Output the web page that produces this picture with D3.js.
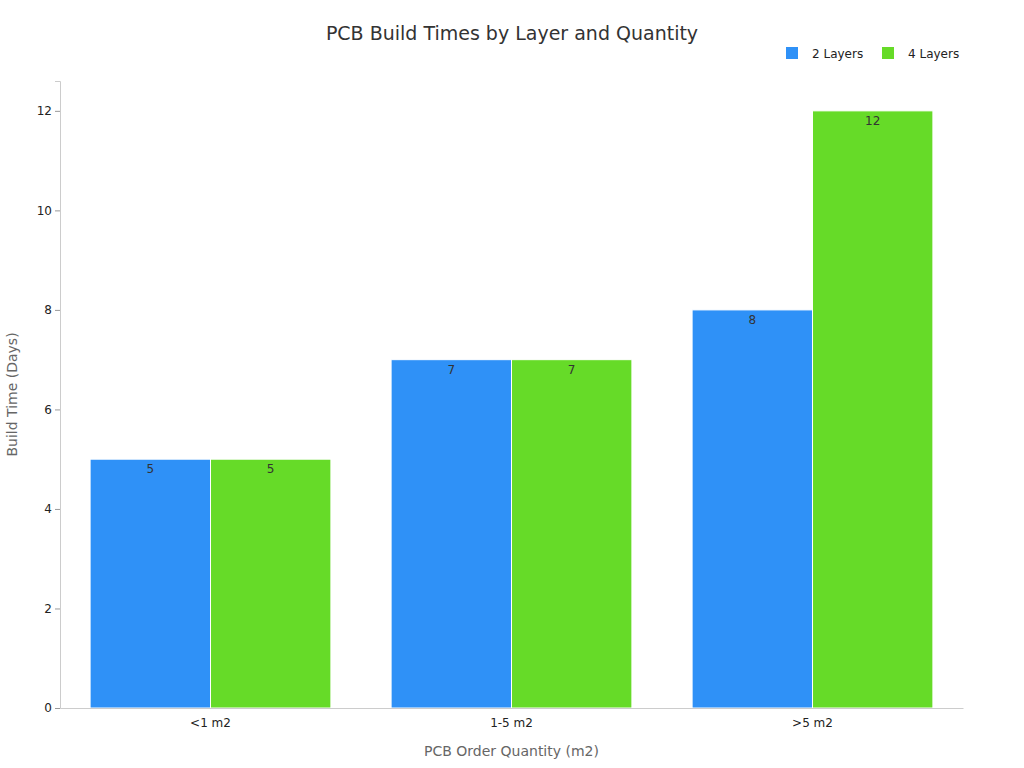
<!DOCTYPE html>
<html><head><meta charset="utf-8">
<script src="https://cdn.jsdelivr.net/npm/d3@7"></script>
<style>body{margin:0;background:#fff;font-family:"DejaVu Sans",sans-serif;}</style>
</head><body><div id="chart"></div>
<script>
const categories = ['<1 m2', '1-5 m2', '>5 m2'];
const seriesNames = ['2 Layers', '4 Layers'];
const layers2 = [5, 7, 8];
const layers4 = [5, 7, 12];
const yTicks = [0, 2, 4, 6, 8, 10, 12];
const colors = ['#2f91f7', '#66db28'];

const W = 1024, H = 768;
const margin = { top: 81, right: 61, bottom: 60, left: 60 };
const width = W - margin.left - margin.right;
const height = H - margin.top - margin.bottom;

const svg = d3.select('#chart').append('svg').attr('width', W).attr('height', H);
const g = svg.append('g').attr('transform', `translate(${margin.left},${margin.top})`);

const x = d3.scaleBand().domain(categories).range([0, width]).paddingInner(0.2).paddingOuter(0.1);
const xs = d3.scaleBand().domain(seriesNames).range([0, x.bandwidth()]);
const y = d3.scaleLinear().domain([0, 12.6]).range([height, 0]);

const data = categories.map((c, i) => ({ cat: c, vals: [layers2[i], layers4[i]] }));

const groups = g.selectAll('.grp').data(data).enter().append('g')
    .attr('transform', d => `translate(${x(d.cat)},0)`);
groups.selectAll('rect').data(d => d.vals.map((v, j) => ({ v, s: seriesNames[j], j })))
    .enter().append('rect')
    .attr('x', d => xs(d.s)).attr('width', xs.bandwidth())
    .attr('y', d => y(d.v)).attr('height', d => height - y(d.v))
    .attr('fill', d => colors[d.j]).attr('stroke', '#fff').attr('stroke-width', 1);
groups.selectAll('text').data(d => d.vals.map((v, j) => ({ v, s: seriesNames[j] })))
    .enter().append('text')
    .attr('x', d => xs(d.s) + xs.bandwidth() / 2).attr('y', d => y(d.v) + 14)
    .attr('text-anchor', 'middle').attr('font-size', 12).attr('fill', '#333').text(d => d.v);

const xAxis = g.append('g').attr('transform', `translate(0,${height})`)
    .call(d3.axisBottom(x).tickSize(0).tickPadding(10));
xAxis.select('.domain').attr('stroke', '#ccc');
xAxis.selectAll('text').attr('font-size', 12).attr('fill', '#222').attr('font-family', 'DejaVu Sans');

const yAxis = g.append('g').call(d3.axisLeft(y).tickValues(yTicks).tickSize(5).tickPadding(3));
yAxis.select('.domain').attr('stroke', '#ccc');
yAxis.selectAll('.tick line').attr('stroke', '#999');
yAxis.selectAll('text').attr('font-size', 12).attr('fill', '#222').attr('font-family', 'DejaVu Sans');

svg.append('text').attr('x', W / 2).attr('y', 40).attr('text-anchor', 'middle')
    .attr('font-size', 19).attr('fill', '#333').text('PCB Build Times by Layer and Quantity');
svg.append('text').attr('x', margin.left + width / 2).attr('y', 756).attr('text-anchor', 'middle')
    .attr('font-size', 14).attr('fill', '#666').text('PCB Order Quantity (m2)');
svg.append('text').attr('transform', `translate(17,${margin.top + height / 2}) rotate(-90)`)
    .attr('text-anchor', 'middle').attr('font-size', 14).attr('fill', '#666').text('Build Time (Days)');

const legX = [786, 882];
const leg = svg.selectAll('.leg').data(seriesNames).enter().append('g')
    .attr('transform', (d, i) => `translate(${legX[i]},47)`);
leg.append('rect').attr('width', 12).attr('height', 12).attr('fill', (d, i) => colors[i]);
leg.append('text').attr('x', 26).attr('y', 11).attr('font-size', 12).attr('fill', '#222').text(d => d);
</script></body></html>
